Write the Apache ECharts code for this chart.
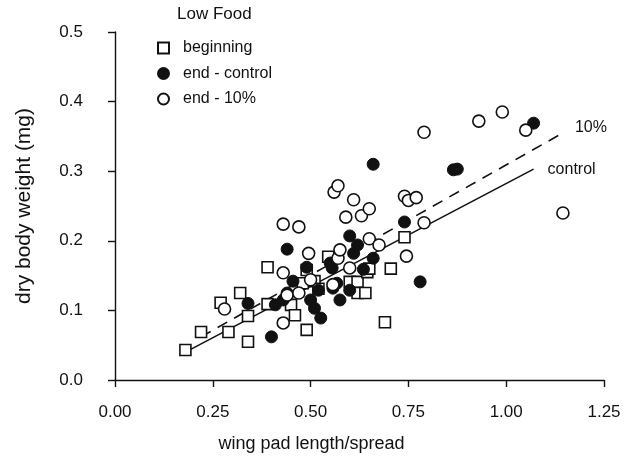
<!DOCTYPE html>
<html>
<head>
<meta charset="utf-8">
<script src="https://cdn.jsdelivr.net/npm/echarts@6/dist/echarts.min.js"></script>
<style>
  html, body { margin: 0; padding: 0; background: #fff; }
  #main { width: 626px; height: 462px; }
</style>
</head>
<body>
<div id="main"></div>
<script>
// wing pad length / dry weight pairs
var beginning = [
  [0.18, 0.043], [0.22, 0.069], [0.27, 0.111], [0.29, 0.069], [0.32, 0.125],
  [0.34, 0.092], [0.34, 0.055], [0.39, 0.162], [0.39, 0.109], [0.45, 0.108],
  [0.46, 0.093], [0.49, 0.072], [0.49, 0.158], [0.48, 0.139], [0.51, 0.142],
  [0.52, 0.131], [0.545, 0.177], [0.60, 0.141], [0.62, 0.141], [0.62, 0.125],
  [0.64, 0.125], [0.645, 0.155], [0.65, 0.16], [0.705, 0.16], [0.69, 0.083],
  [0.74, 0.205]
];
var endControl = [
  [0.34, 0.110], [0.40, 0.062], [0.41, 0.108], [0.43, 0.115], [0.44, 0.188],
  [0.455, 0.142], [0.44, 0.125], [0.49, 0.162], [0.50, 0.115], [0.51, 0.103],
  [0.526, 0.089], [0.52, 0.129], [0.555, 0.161], [0.557, 0.132], [0.567, 0.139],
  [0.575, 0.115], [0.55, 0.168], [0.60, 0.129], [0.60, 0.207], [0.61, 0.182],
  [0.62, 0.194], [0.635, 0.159], [0.66, 0.175], [0.66, 0.31], [0.74, 0.227],
  [0.78, 0.141], [0.865, 0.302], [0.875, 0.303], [1.07, 0.369]
];
var end10 = [
  [0.28, 0.102], [0.43, 0.154], [0.43, 0.082], [0.43, 0.224], [0.47, 0.22],
  [0.44, 0.122], [0.47, 0.125], [0.495, 0.182], [0.50, 0.144], [0.557, 0.137],
  [0.56, 0.27], [0.57, 0.279], [0.59, 0.234], [0.61, 0.259], [0.63, 0.236],
  [0.65, 0.246], [0.57, 0.175], [0.575, 0.187], [0.60, 0.161], [0.65, 0.203],
  [0.675, 0.194], [0.745, 0.178], [0.74, 0.264], [0.75, 0.258], [0.77, 0.262],
  [0.79, 0.226], [0.79, 0.356], [0.93, 0.372], [0.99, 0.385], [1.05, 0.359],
  [1.145, 0.240]
];
// regression lines (end points)
var controlLineX = [0.18, 1.07];
var controlLineY = [0.040, 0.303];
var tenLineX = [0.22, 1.145];
var tenLineY = [0.062, 0.355];

var xTicks = [0, 1.25, 0.25];
var yTicks = [0, 0.5, 0.1];

function pairs(xs, ys) {
  return xs.map(function (x, i) { return [x, ys[i]]; });
}

var font = 'Liberation Sans, Arial, sans-serif';
var ink = '#111';

var chart = echarts.init(document.getElementById('main'));
chart.setOption({
  animation: false,
  backgroundColor: '#fff',
  textStyle: { fontFamily: font, color: ink },
  title: {
    text: 'Low Food',
    left: 172, top: 1,
    textStyle: { fontFamily: font, fontSize: 17, fontWeight: 'normal', color: ink }
  },
  legend: {
    data: ['beginning', 'end - control', 'end - 10%'],
    orient: 'vertical',
    left: 152, top: 35,
    itemWidth: 11, itemHeight: 11, itemGap: 9.5,
    textStyle: { fontFamily: font, fontSize: 16, color: ink, padding: [0, 0, 0, 9] }
  },
  grid: { left: 115, right: 22, top: 32, bottom: 82 },
  xAxis: {
    type: 'value',
    min: xTicks[0], max: xTicks[1], interval: xTicks[2],
    name: 'wing pad length/spread',
    nameLocation: 'middle', nameGap: 55,
    nameTextStyle: { fontSize: 18, color: ink, padding: [0, 96, 0, 0] },
    axisLine: { lineStyle: { color: ink, width: 1.4 } },
    axisTick: { length: 7, lineStyle: { color: ink, width: 1.4 } },
    axisLabel: { fontSize: 17, color: ink, margin: 24,
      formatter: function (v) { return v.toFixed(2); } },
    splitLine: { show: false }
  },
  yAxis: {
    type: 'value',
    min: yTicks[0], max: yTicks[1], interval: yTicks[2],
    name: 'dry body weight (mg)',
    nameLocation: 'middle', nameGap: 80,
    nameTextStyle: { fontSize: 21, color: ink },
    axisLine: { show: true, lineStyle: { color: ink, width: 1.4 } },
    axisTick: { show: true, length: 7, lineStyle: { color: ink, width: 1.4 } },
    axisLabel: { fontSize: 17, color: ink, margin: 32,
      formatter: function (v) { return v.toFixed(1); } },
    splitLine: { show: false }
  },
  series: [
    {
      name: 'control',
      type: 'line',
      data: pairs(controlLineX, controlLineY),
      showSymbol: false, silent: true,
      lineStyle: { color: ink, width: 1.6 },
      endLabel: { show: true, formatter: 'control', fontSize: 16, color: ink,
        distance: 14 },
      z: 1
    },
    {
      name: '10%',
      type: 'line',
      data: pairs(tenLineX, tenLineY),
      showSymbol: false, silent: true,
      lineStyle: { color: ink, width: 1.6, type: [11, 8] },
      endLabel: { show: true, formatter: '10%', fontSize: 16, color: ink,
        distance: 12, offset: [0, -5] },
      z: 1
    },
    {
      name: 'beginning',
      type: 'scatter',
      data: beginning,
      symbol: 'rect', symbolSize: 11,
      itemStyle: { color: '#fff', borderColor: ink, borderWidth: 1.6, opacity: 1 },
      z: 3
    },
    {
      name: 'end - control',
      type: 'scatter',
      data: endControl,
      symbol: 'circle', symbolSize: 12,
      itemStyle: { color: ink, borderColor: ink, borderWidth: 1, opacity: 1 },
      z: 4
    },
    {
      name: 'end - 10%',
      type: 'scatter',
      data: end10,
      symbol: 'circle', symbolSize: 12,
      itemStyle: { color: '#fff', borderColor: ink, borderWidth: 1.6, opacity: 1 },
      z: 5
    }
  ]
});
</script>
</body>
</html>
